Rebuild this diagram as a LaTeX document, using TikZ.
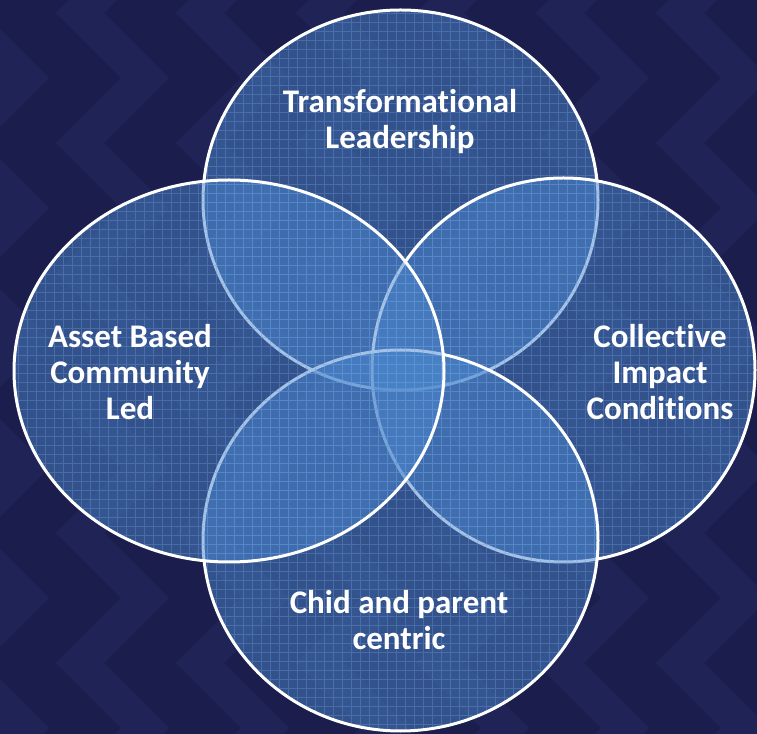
\documentclass[tikz,border=0pt]{standalone}
\usepackage{fontspec}
\setmainfont{Carlito}[Ligatures=NoCommon]
\definecolor{navy}{RGB}{27,29,76}
\definecolor{chevron}{RGB}{32,35,86}
\definecolor{setblue}{RGB}{75,135,205}
\definecolor{gridblue}{RGB}{110,160,225}
\tikzset{
	chev/.style={draw=chevron, line width=34pt, line join=miter},
	setfill/.style={fill=setblue, fill opacity=0.5},
	setline/.style={draw=white, line width=3pt},
	gridline/.style={draw=gridblue, line width=0.7pt, opacity=0.35},
	lbl/.style={text=white, align=center, font=\fontsize{33}{36}\selectfont\bfseries}
}
\newcommand{\venset}[3]{%
	\fill [setfill] (#1) ellipse [x radius=#2, y radius=#3];
	\begin{scope}
		\clip (#1) ellipse [x radius=#2, y radius=#3];
		\draw [gridline, step=9pt] (0pt,0pt) grid (757pt,733pt);
	\end{scope}
	\draw [setline] (#1) ellipse [x radius=#2, y radius=#3];
}
\begin{document}
\begin{tikzpicture}[x=1pt, y=1pt]
	\useasboundingbox (0,0) rectangle (757,733);
	\fill [navy] (-2,-2) rectangle (759,735);
	% background chevrons
	\begin{scope}
		\clip (0,0) rectangle (757,733);
		\foreach \c in {-40,80,...,800}
			\draw [chev] (\c,-60) \foreach \k in {1,...,7} { -- ++(65,65) -- ++(-65,65) };
	\end{scope}
	% the four sets
	\venset{400.5,533}{197.5pt}{190pt}
	\venset{563.5,363}{191.5pt}{192pt}
	\venset{400.5,192.5}{197.5pt}{190.5pt}
	\venset{229,362}{215pt}{191pt}
	% labels
	\node [lbl] (leader) at (400,611) {Transformational\\Leadership};
	\node [lbl] (asset) at (130,361) {Asset Based\\Community\\Led};
	\node [lbl] (impact) at (660,361) {Collective\\Impact\\Conditions};
	\node [lbl] (child) at (399,113) {Chid and parent\\centric};
\end{tikzpicture}
\end{document}
